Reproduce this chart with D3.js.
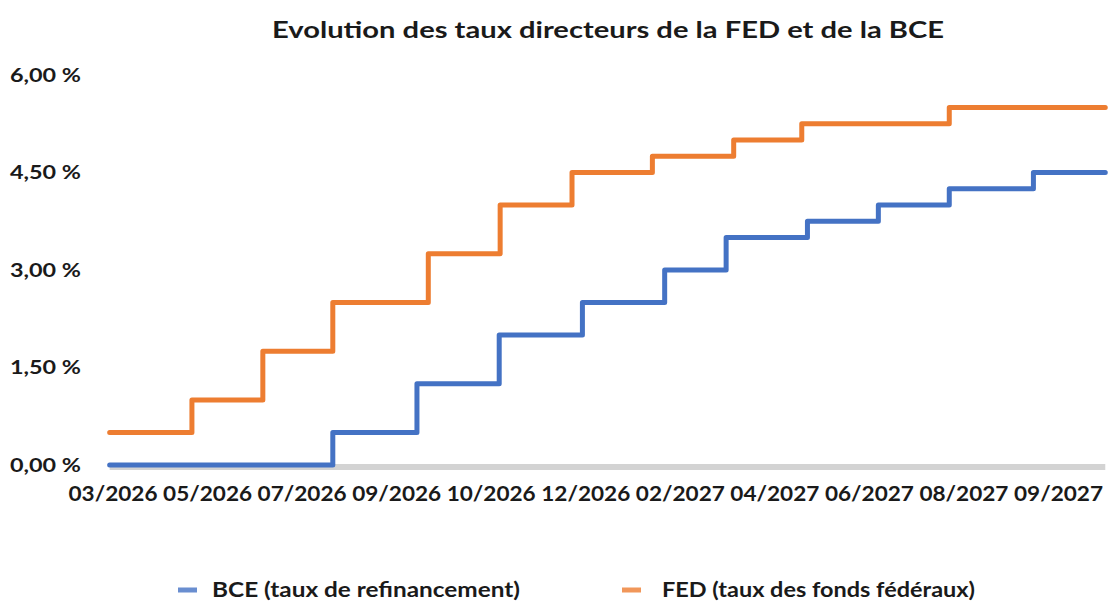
<!DOCTYPE html>
<html>
<head>
<meta charset="utf-8">
<script src="https://cdn.jsdelivr.net/npm/d3@7"></script>
<style>
  body { margin: 0; background: #fff; }
  text { font-family: Lato, "Open Sans", sans-serif; font-weight: bold; fill: #1a1a1a; }
</style>
</head>
<body>
<svg id="canvas" width="1108" height="602"></svg>
<script>
// libellés de l'axe horizontal (une étiquette par intervalle)
const xLabels = ["03/2026", "05/2026", "07/2026", "09/2026", "10/2026", "12/2026",
                 "02/2027", "04/2027", "06/2027", "08/2027", "09/2027"];
const yTicks = [0, 1.5, 3, 4.5, 6];

// position le long de l'axe (en intervalles d'étiquettes) et taux
const fedPos  = [-0.03, 0.84, 1.59, 2.33, 3.34, 4.10, 4.86, 5.71, 6.57, 7.29, 8.85, 10.50];
const fedRate = [0.50, 1.00, 1.75, 2.50, 3.25, 4.00, 4.50, 4.75, 5.00, 5.25, 5.50, 5.50];

const bcePos  = [-0.03, 2.33, 3.22, 4.09, 4.97, 5.84, 6.49, 7.35, 8.10, 8.85, 9.74, 10.50];
const bceRate = [0.00, 0.50, 1.25, 2.00, 2.50, 3.00, 3.50, 3.75, 4.00, 4.25, 4.50, 4.50];

const series = [
  { name: "BCE (taux de refinancement)", color: "#4472c4", pos: bcePos, rate: bceRate },
  { name: "FED (taux des fonds fédéraux)", color: "#ed7d31", pos: fedPos, rate: fedRate }
];

const svg = d3.select("#canvas");

const xScale = d3.scaleLinear().domain([0, xLabels.length - 1]).range([112.5, 1058]);
const yScale = d3.scaleLinear().domain([0, 6]).range([465, 75]);

const fmt = d => d.toFixed(2).replace(".", ",") + " %";

// titre
svg.append("text")
  .attr("x", 608).attr("y", 38)
  .attr("text-anchor", "middle")
  .attr("font-size", 23)
  .attr("textLength", 672)
  .attr("lengthAdjust", "spacingAndGlyphs")
  .text("Evolution des taux directeurs de la FED et de la BCE");

// axe y (libellés seulement)
const yAxis = d3.axisLeft(yScale).tickValues(yTicks).tickSize(0).tickPadding(0).tickFormat(fmt);
const yg = svg.append("g").attr("transform", "translate(81,0)").call(yAxis);
yg.select(".domain").remove();
yg.selectAll("text")
  .attr("font-size", 18)
  .attr("textLength", 71)
  .attr("lengthAdjust", "spacingAndGlyphs")
  .attr("dy", "0.35em")
  .style("font-family", "Lato, sans-serif").style("font-weight", "bold").style("fill", "#1a1a1a");

// ligne de base grise
svg.append("line")
  .attr("x1", xScale(-0.03)).attr("x2", xScale(10.5))
  .attr("y1", yScale(0) + 2).attr("y2", yScale(0) + 2)
  .attr("stroke", "#d3d3d3").attr("stroke-width", 6);

// axe x
const xAxis = d3.axisBottom(xScale)
  .tickValues(d3.range(xLabels.length))
  .tickSize(0).tickPadding(0)
  .tickFormat(i => xLabels[i]);
const xg = svg.append("g").attr("transform", "translate(0,485)").call(xAxis);
xg.select(".domain").remove();
xg.selectAll("text")
  .attr("font-size", 21)
  .attr("textLength", 89)
  .attr("lengthAdjust", "spacingAndGlyphs")
  .attr("dy", "0.75em")
  .style("font-family", "Lato, sans-serif").style("font-weight", "bold").style("fill", "#1a1a1a");

// courbes en escalier
const line = d3.line()
  .x(d => xScale(d[0]))
  .y(d => yScale(d[1]))
  .curve(d3.curveStepAfter);

svg.append("g").selectAll("path")
  .data(series)
  .join("path")
  .attr("d", s => line(s.pos.map((p, i) => [p, s.rate[i]])))
  .attr("fill", "none")
  .attr("stroke", s => s.color)
  .attr("stroke-width", 5)
  .attr("stroke-linecap", "round")
  .attr("stroke-linejoin", "round");

// légende
const legendX = [178, 622];
const legendTextW = [308, 313];
const lg = svg.append("g").selectAll("g")
  .data(series)
  .join("g")
  .attr("transform", (s, i) => "translate(" + legendX[i] + ",590)");
lg.append("line")
  .attr("x1", 0).attr("x2", 19)
  .attr("stroke", s => s.color).attr("stroke-opacity", 0.8)
  .attr("stroke-width", 5);
lg.append("text")
  .attr("x", (s, i) => i === 0 ? 34 : 40)
  .attr("dy", "0.35em")
  .attr("font-size", 20)
  .attr("textLength", (s, i) => legendTextW[i])
  .attr("lengthAdjust", "spacingAndGlyphs")
  .text(s => s.name);
</script>
</body>
</html>
